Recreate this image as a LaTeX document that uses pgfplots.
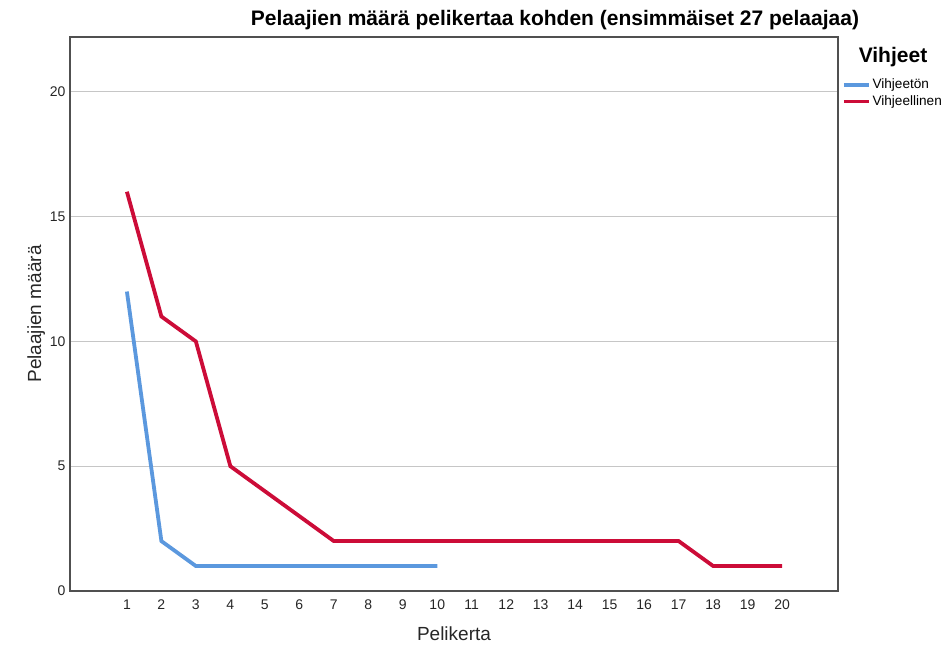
\documentclass[border=0pt]{standalone}
\usepackage{pgfplots}
\pgfplotsset{compat=1.18}
\usepackage{fontspec}
\setmainfont{Liberation Sans}
\definecolor{sblue}{RGB}{91,152,222}
\definecolor{sred}{RGB}{204,12,56}
\definecolor{frame}{RGB}{80,80,80}
\begin{document}
\begin{tikzpicture}
\useasboundingbox (0pt,0pt) rectangle (944pt,652pt);
\begin{axis}[
  at={(70pt,61pt)}, anchor=south west,
  width=768pt, height=554pt, scale only axis,
  xmin=-0.65, xmax=21.62, ymin=0, ymax=22.2,
  xtick={1,...,20}, ytick={0,5,10,15,20},
  major tick length=0pt,
  axis line style={frame, line width=1.3pt},
  ymajorgrids, grid style={gray!45, line width=0.9pt},
  tick label style={font=\fontsize{14}{16}\selectfont, text=black!85},
  /pgf/number format/assume math mode=true,
  xticklabel style={yshift=-5pt},
  yticklabel style={xshift=-1pt},
  xlabel={Pelikerta}, ylabel={Pelaajien määrä},
  label style={font=\fontsize{19}{21}\selectfont, text=black!85},
  xlabel style={yshift=-10pt},
  ylabel style={yshift=-2pt},
  legend style={at={(rel axis cs:1.005,0.928)}, anchor=north west, draw=none, fill=none,
    font=\fontsize{13.6}{15}\selectfont, row sep=1.5pt, inner sep=0pt},
  legend cell align=left,
  legend image code/.code={\draw[#1, line width=3.5pt] (0pt,0pt) -- (25pt,0pt);},
  clip=false,
]
\addplot[sblue, line width=3.8pt] coordinates {(1,12)(2,2)(3,1)(4,1)(5,1)(6,1)(7,1)(8,1)(9,1)(10,1)};
\addlegendentry{Vihjeetön}
\addplot[sred, line width=3.8pt] coordinates {(1,16)(2,11)(3,10)(4,5)(5,4)(6,3)(7,2)(8,2)(9,2)(10,2)(11,2)(12,2)(13,2)(14,2)(15,2)(16,2)(17,2)(18,1)(19,1)(20,1)};
\addlegendentry{Vihjeellinen}
\end{axis}
\node[font=\bfseries\fontsize{21}{23}\selectfont] at (555pt,632pt) {Pelaajien määrä pelikertaa kohden (ensimmäiset 27 pelaajaa)};
\node[font=\bfseries\fontsize{21}{23}\selectfont] at (893pt,595pt) {Vihjeet};
\end{tikzpicture}
\end{document}
